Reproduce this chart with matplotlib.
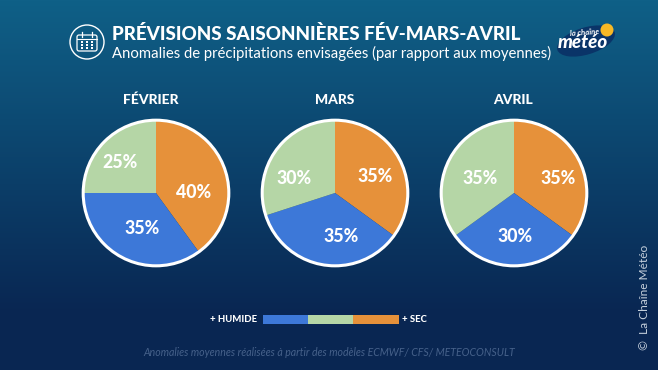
import numpy as np
from matplotlib import pyplot as plt
from matplotlib.patches import Circle, Ellipse, FancyBboxPatch, Rectangle

months = ["FÉVRIER", "MARS", "AVRIL"]
sec = [40, 35, 35]
humide = [35, 35, 30]
normal = [25, 30, 35]
centers_x = [156, 335, 514]
month_x = [151, 335, 513]
# pixel spots of the percent labels (sec, humide, normal) for each pie
label_xy = [[(194, 192), (142, 229), (120, 162)],
            [(375, 176), (341, 236), (294, 178)],
            [(558, 179), (515, 236), (480, 178)]]

ORANGE = "#e6913a"
BLUE = "#3d78d8"
GREEN = "#b5d6a6"
W, H = 658, 370
CY, R = 193, 73

plt.rcParams['font.family'] = ['Lato', 'DejaVu Sans']

fig = plt.figure(figsize=(W / 100, H / 100), dpi=100)
bg = fig.add_axes([0, 0, 1, 1])
bg.set_xlim(0, W)
bg.set_ylim(H, 0)
bg.axis('off')

# background gradient, top to bottom
top = np.array([15, 96, 135]) / 255
bottom = np.array([9, 38, 82]) / 255
t = np.clip(np.linspace(0, 1, H) / 0.85, 0, 1)[:, None, None]
grad = top * (1 - t) + bottom * t
bg.imshow(grad, extent=[0, W, H, 0], aspect='auto', zorder=0)

# pies
for i in range(len(months)):
    cx = centers_x[i]
    ax = fig.add_axes([(cx - R - 2) / W, 1 - (CY + R + 2) / H, (2 * R + 4) / W, (2 * R + 4) / H])
    vals = [sec[i], humide[i], normal[i]]
    ax.pie(vals, colors=[ORANGE, BLUE, GREEN], startangle=90, counterclock=False, radius=1,
           wedgeprops={'edgecolor': 'none'})
    ax.add_patch(Circle((0, 0), 1, fill=False, edgecolor='white', linewidth=2.2))
    ax.set_xlim(-1.03, 1.03)
    ax.set_ylim(-1.03, 1.03)
    ax.set_aspect('equal')
    bg.text(month_x[i], 100, months[i], color='white', fontsize=10, fontweight='black',
            ha='center', va='center')

# labels go on top of the pies, so they sit on their own overlay axes
over = fig.add_axes([0, 0, 1, 1], facecolor='none')
over.set_xlim(0, W)
over.set_ylim(H, 0)
over.axis('off')
for i in range(len(months)):
    vals = [sec[i], humide[i], normal[i]]
    for v, (x, y) in zip(vals, label_xy[i]):
        over.text(x, y, f"{v}%", color='white', fontsize=12.8, fontweight='black',
                  ha='center', va='center')

# title
bg.text(112, 33.5, "PRÉVISIONS SAISONNIÈRES FÉV-MARS-AVRIL", color='white', fontsize=13.55,
        fontweight='black', ha='left', va='center')
bg.text(112, 53, "Anomalies de précipitations envisagées (par rapport aux moyennes)", color='white',
        fontsize=10.7, ha='left', va='center')

# calendar icon
bg.add_patch(Circle((87, 42), 17, fill=False, edgecolor='white', linewidth=1))
bg.add_patch(FancyBboxPatch((77, 35), 20, 16, boxstyle="round,pad=0,rounding_size=2", fill=False,
                            edgecolor='white', linewidth=0.9))
bg.plot([77, 97], [39, 39], color='white', linewidth=0.8)
for x in [82, 92]:
    bg.plot([x, x], [32, 37], color='white', linewidth=0.9)
for x in [82, 87, 92]:
    for y in [42, 45, 48]:
        bg.add_patch(Rectangle((x - 1.1, y - 0.9), 2.2, 1.8, color='white', linewidth=0))

# logo
bg.add_patch(Ellipse((586, 41), 60, 27, angle=-17, color='#0a3468', linewidth=0))
bg.add_patch(Circle((607, 30), 6.5, color='#f7b825', linewidth=0))
bg.text(584, 32, "la chaîne", color='white', fontsize=5.6, fontstyle='italic', fontweight='bold',
        ha='center', va='center', rotation=4)
bg.text(583, 42.5, "météo", color='white', fontsize=13.5, fontstyle='italic', fontweight='black',
        ha='center', va='center')

# colour key
bar_x = [263, 308, 353]
for x, c in zip(bar_x, [BLUE, GREEN, ORANGE]):
    bg.add_patch(Rectangle((x, 315), 46, 9, color=c, linewidth=0))
bg.text(257, 319.5, "+ HUMIDE", color='white', fontsize=6.8, fontweight='black', ha='right', va='center')
bg.text(402, 319.5, "+ SEC", color='white', fontsize=6.8, fontweight='black', ha='left', va='center')

# source and copyright
bg.text(329, 352.5, "Anomalies moyennes réalisées à partir des modèles ECMWF/ CFS/ METEOCONSULT",
        color='#46618a', fontsize=7.6, fontstyle='italic', ha='center', va='center')
bg.text(645, 297, "©  La Chaîne Météo", color='#c5d0dc', fontsize=8.6, rotation=90, ha='center', va='center')

fig.savefig("out.png", dpi=100)
